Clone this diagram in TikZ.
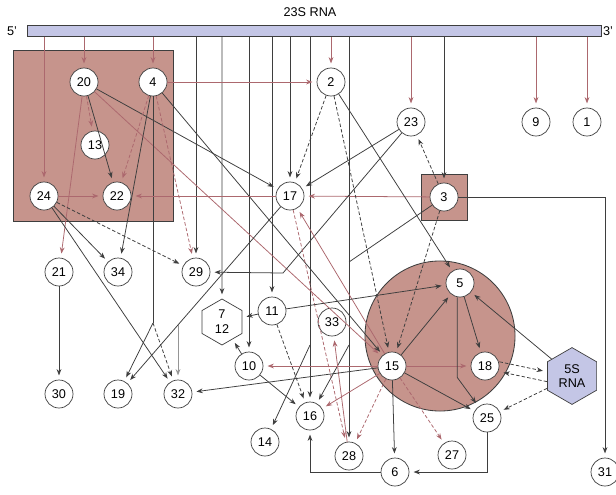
\documentclass[tikz,border=0pt]{standalone}
\usepackage{fontspec}
\setmainfont{Liberation Sans}
\usetikzlibrary{arrows.meta, shapes.geometric}
\definecolor{rosebrown}{RGB}{198,148,140}
\definecolor{lavender}{RGB}{196,198,230}
\definecolor{mauve}{RGB}{172,104,110}
\definecolor{inkgray}{RGB}{62,62,62}

\begin{document}
\begin{tikzpicture}[x=0.025cm, y=-0.025cm,
    prot/.style={circle, draw=inkgray, fill=white, line width=0.5pt,
                 minimum size=0.7cm, inner sep=0pt, font=\fontsize{9}{10}\selectfont},
    hexa/.style={regular polygon, regular polygon sides=6, shape border rotate=30,
                 draw=inkgray, fill=white, line width=0.5pt, inner sep=0pt,
                 align=center, font=\fontsize{9}{10.5}\selectfont},
    group/.style={draw=inkgray, fill=rosebrown, line width=0.6pt},
    lbl/.style={font=\fontsize{9}{10}\selectfont, inner sep=1pt},
    ln/.style={line width=0.55pt, color=inkgray},
    arr/.style={ln, -{Stealth[length=4.5pt, width=3.4pt]}, shorten >=3pt},
    rarr/.style={arr, color=mauve},
    dsh/.style={dash pattern=on 2.5pt off 1.5pt},
  ]
    \useasboundingbox (0,0) rectangle (616,494);

    %% 23S RNA strand
    \node[draw=inkgray, fill=lavender, minimum width=14.35cm, minimum height=0.28cm,
          inner sep=0pt] (rna23) at (314,31) {};
    \node[lbl] (t23) at (310,12) {23S RNA};
    \node[lbl] (end5) at (12,31) {5'};
    \node[lbl] (end3) at (608,31) {3'};

    %% shaded groups
    \draw[group] (13,50) rectangle (173,221);
    \draw[group] (440,336) circle (1.875cm);
    \draw[group] (421,174) rectangle (467,220);

    %% proteins
    \node[prot] (l20) at (84,82) {20};
    \node[prot] (l4)  at (153,82) {4};
    \node[prot] (l13) at (95,145) {13};
    \node[prot] (l24) at (44,196) {24};
    \node[prot] (l22) at (117,196) {22};
    \node[prot] (l2)  at (331,82) {2};
    \node[prot] (l23) at (411,122) {23};
    \node[prot] (l9)  at (536,122) {9};
    \node[prot] (l1)  at (587,122) {1};
    \node[prot] (l17) at (290,196) {17};
    \node[prot] (l3)  at (444,197) {3};
    \node[prot] (l21) at (59,272) {21};
    \node[prot] (l34) at (118,272) {34};
    \node[prot] (l29) at (196,272) {29};
    \node[hexa, minimum size=1.15cm] (l712) at (222,322) {7\\12};
    \node[prot] (l11) at (272,311) {11};
    \node[prot] (l33) at (332,322) {33};
    \node[prot] (l5)  at (460,283) {5};
    \node[prot] (l15) at (392,366) {15};
    \node[prot] (l18) at (485,366) {18};
    \node[hexa, fill=lavender, minimum size=1.42cm] (rna5) at (572,376) {5S\\RNA};
    \node[prot] (l25) at (487,418) {25};
    \node[prot] (l27) at (452,455) {27};
    \node[prot] (l6)  at (395,472) {6};
    \node[prot] (l31) at (605,472) {31};
    \node[prot] (l10) at (249,366) {10};
    \node[prot] (l16) at (310,416) {16};
    \node[prot] (l14) at (265,442) {14};
    \node[prot] (l28) at (349,456) {28};
    \node[prot] (l30) at (59,394) {30};
    \node[prot] (l19) at (118,394) {19};
    \node[prot] (l32) at (178,394) {32};

    %% bend and branch points
    \coordinate (k4)  at (153,323);
    \coordinate (k14) at (310,345);
    \coordinate (k16) at (349,345);
    \coordinate (k28) at (349,262);
    \coordinate (k29) at (283,273);
    \coordinate (k32) at (178,325);

    %% binding to 23S RNA
    \foreach \p in {l24, l20, l4, l2, l23, l9, l1}
      \draw[rarr] (rna23.south -| \p) -- (\p);
    \foreach \p in {l29, l712, l10, l11, l17, l16, l28, l3}
      \draw[arr] (rna23.south -| \p) -- (\p);

    %% upper group
    \draw[rarr] (l4) -- (l2);
    \draw[rarr, dsh] (l20) -- (l13);
    \draw[arr] (l20) -- (l22);
    \draw[arr] (l20) -- (l17);
    \draw[rarr] (l20) -- (l21);
    \draw[rarr] (l20) -- (l15);
    \draw[rarr, dsh] (l4) -- (l22);
    \draw[arr] (l4) -- (l34);
    \draw[rarr, dsh] (l4) -- (l29);
    \draw[arr] (l4) -- (l15);
    \draw[ln] (l4) -- (k4);
    \draw[arr] (k4) -- (l19);
    \draw[arr, dsh] (k4) -- (l32);
    \draw[rarr] (l24) -- (l22);
    \draw[rarr] (l3) -- (l17);
    \draw[rarr] (l17) -- (l22);
    \draw[arr] (l24) -- (l34);
    \draw[arr] (l24) -- (l32);
    \draw[arr, dsh] (l24) -- (l29);
    \draw[arr] (l21) -- (l30);

    %% middle
    \draw[arr, dsh] (l2) -- (l17);
    \draw[arr, dsh] (l2) -- (l15);
    \draw[arr] (l2) -- (l5);
    \draw[arr] (l23) -- (l17);
    \draw[arr] (l23) -- (k29) -- (l29);
    \draw[arr, dsh] (l3) -- (l23);
    \draw[arr] (l3) -| (l31);
    \draw[arr, dsh] (l3) -- (l15);
    \draw[ln] (l3) -- (k28);
    \draw[arr] (l17) -- (l19);
    \draw[arr, color=inkgray!55] (k32) -- (l32);
    \draw[rarr] (l15) -- (l17);
    \draw[rarr, dsh] (l17) -- (l28);
    \draw[arr] (l11) -- (l5);
    \draw[arr] (l11) -- (l712);
    \draw[arr, dsh] (l11) -- (l16);
    \draw[arr] (l10) -- (l712);
    \draw[arr] (l10) -- (l16);
    \draw[arr] (k14) -- (l14);
    \draw[arr] (k16) -- (l16);
    \draw[rarr] (l28) -- (l33);

    %% lower group around 15
    \draw[rarr] (l15) -- (l10);
    \draw[arr] (l15) -- (l32);
    \draw[rarr] (l15) -- (l16);
    \draw[rarr, dsh] (l15) -- (l28);
    \draw[arr] (l15) -- (l6);
    \draw[rarr, dsh] (l15) -- (l27);
    \draw[arr] (l15) -- (l5);
    \draw[rarr] (l15) -- (l18);
    \draw[arr] (l15) -- (l25);
    \draw[arr] (l5) -- (l18);
    \draw[arr] ([xshift=-2pt]l5.south) -- ++(0,80) -- (l25);
    \draw[arr] (rna5) -- (l5);
    \draw[arr, dsh] ([yshift=3pt]l18.east) -- ([yshift=3pt]rna5.west);
    \draw[arr, dsh] ([yshift=-4pt]rna5.west) -- ([yshift=-4pt]l18.east);
    \draw[arr, dsh] (rna5) -- (l25);
    \draw[arr] (l25) |- (l6);
    \draw[arr] (l6) -| (l16);
  \end{tikzpicture}
\end{document}
